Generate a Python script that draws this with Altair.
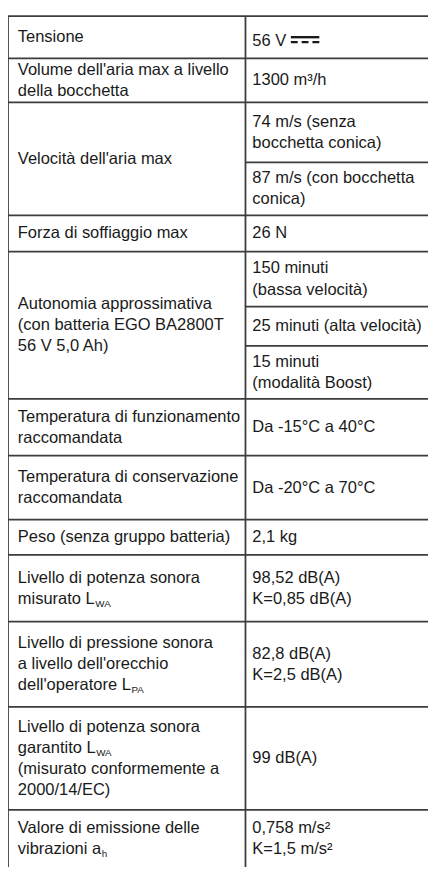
import altair as alt
import pandas as pd

# ---------------- data ----------------
left_labels = [
    ["Tensione"],
    ["Volume dell'aria max a livello", "della bocchetta"],
    ["Velocità dell'aria max"],
    ["Forza di soffiaggio max"],
    ["Autonomia approssimativa", "(con batteria EGO BA2800T", "56 V 5,0 Ah)"],
    ["Temperatura di funzionamento", "raccomandata"],
    ["Temperatura di conservazione", "raccomandata"],
    ["Peso (senza gruppo batteria)"],
    ["Livello di potenza sonora", "misurato L"],
    ["Livello di pressione sonora", "a livello dell'orecchio", "dell'operatore L"],
    ["Livello di potenza sonora", "garantito L", "(misurato conformemente a", "2000/14/EC)"],
    ["Valore di emissione delle", "vibrazioni a"],
]
left_subscripts = {(8, 1): "WA", (9, 2): "PA", (10, 1): "WA", (11, 1): "h"}

right_values = [
    [["56 V "]],
    [["1300 m³/h"]],
    [["74 m/s (senza", "bocchetta conica)"], ["87 m/s (con bocchetta", "conica)"]],
    [["26 N"]],
    [["150 minuti", "(bassa velocità)"], ["25 minuti (alta velocità)"], ["15 minuti", "(modalità Boost)"]],
    [["Da -15°C a 40°C"]],
    [["Da -20°C a 70°C"]],
    [["2,1 kg"]],
    [["98,52 dB(A)", "K=0,85 dB(A)"]],
    [["82,8 dB(A)", "K=2,5 dB(A)"]],
    [["99 dB(A)"]],
    [["0,758 m/s²", "K=1,5 m/s²"]],
]
dc_symbol_row = 0  # the "56 V" cell carries the direct-current symbol

# row borders (table coordinates, px from the table's top-left corner)
row_edges = [0, 43, 88, 203, 240, 390, 448, 513, 549, 617, 704, 809, 867]
# inner borders of the right column, per row
right_splits = {2: [149], 4: [296, 336]}
right_shift = {0: 4}

# ---------------- layout ----------------
W, H = 428, 867
MID = 242
LEFT_PAD = 10
RIGHT_PAD = 7
LINE_H = 21.5
FS = 16.8
SUB_FS = 10
FONT = "Liberation Sans, Arial, Helvetica, sans-serif"
LINE_COLOR = "#3c3c3c"
TEXT_COLOR = "#1a1a1a"

ARIAL_W = dict(zip("abcdefghijklmnopqrstuvwxyz",
                   [556, 556, 500, 556, 556, 278, 556, 556, 222, 222, 500, 222, 833,
                    556, 556, 556, 556, 333, 500, 278, 556, 500, 722, 500, 500, 500]))
ARIAL_W.update({" ": 278, "'": 191, "L": 556, "V": 667})


def text_width(s, size):
    return sum(ARIAL_W.get(c, 556) for c in s) * size / 1000.0


def line_positions(top, bottom, n):
    c = (top + bottom) / 2.0
    return [c + (i - (n - 1) / 2.0) * LINE_H for i in range(n)]


texts, subs = [], []
for r, lines in enumerate(left_labels):
    ys = line_positions(row_edges[r], row_edges[r + 1], len(lines))
    for i, (s, y) in enumerate(zip(lines, ys)):
        texts.append({"x": LEFT_PAD, "y": y, "text": s})
        if (r, i) in left_subscripts:
            subs.append({"x": LEFT_PAD + text_width(s, FS) + 0.5, "y": y + 5,
                         "text": left_subscripts[(r, i)]})

hlines = []
for e in row_edges[:-1]:
    hlines.append({"x": 0, "x2": W, "y": e})

dc_solid, dc_dash = [], []
for r, cells in enumerate(right_values):
    edges = [row_edges[r]] + right_splits.get(r, []) + [row_edges[r + 1]]
    for k, cell in enumerate(cells):
        ys = line_positions(edges[k], edges[k + 1], len(cell))
        for s, y in zip(cell, ys):
            y = y + right_shift.get(r, 0)
            texts.append({"x": MID + RIGHT_PAD, "y": y, "text": s})
            if r == dc_symbol_row:
                x0 = MID + RIGHT_PAD + text_width(s, FS)
                dc_solid.append({"x": x0, "x2": x0 + 29, "y": y - 4})
                dc_dash.append({"x": x0, "x2": x0 + 29, "y": y + 1})
    for e in right_splits.get(r, []):
        hlines.append({"x": MID, "x2": W, "y": e})

vlines = [{"x": 0, "y": 0, "y2": H}, {"x": MID, "y": 0, "y2": H}]

xs = alt.Scale(domain=[0, W], nice=False, zero=False)
ys_ = alt.Scale(domain=[0, H], nice=False, zero=False, reverse=True)


def hrule(df, **kw):
    return alt.Chart(pd.DataFrame(df)).mark_rule(**kw).encode(
        x=alt.X("x:Q", scale=xs, axis=None), x2="x2:Q",
        y=alt.Y("y:Q", scale=ys_, axis=None))


h = hrule(hlines, color=LINE_COLOR, strokeWidth=1.8)
s1 = hrule(dc_solid, color=TEXT_COLOR, strokeWidth=2.4)
s2 = hrule(dc_dash, color=TEXT_COLOR, strokeWidth=2.4, strokeDash=[7, 4])
v = alt.Chart(pd.DataFrame(vlines)).mark_rule(color=LINE_COLOR, strokeWidth=1.8).encode(
    x=alt.X("x:Q", scale=xs, axis=None),
    y=alt.Y("y:Q", scale=ys_, axis=None), y2="y2:Q")
t = alt.Chart(pd.DataFrame(texts)).mark_text(
    align="left", baseline="middle", font=FONT, fontSize=FS, color=TEXT_COLOR).encode(
    x=alt.X("x:Q", scale=xs, axis=None),
    y=alt.Y("y:Q", scale=ys_, axis=None), text="text:N")
sb = alt.Chart(pd.DataFrame(subs)).mark_text(
    align="left", baseline="middle", font=FONT, fontSize=SUB_FS, color=TEXT_COLOR).encode(
    x=alt.X("x:Q", scale=xs, axis=None),
    y=alt.Y("y:Q", scale=ys_, axis=None), text="text:N")

chart = alt.layer(h, v, s1, s2, t, sb).properties(
    width=W, height=H, padding=0, autosize="none", background="white"
).configure_view(stroke=None)

chart.save("out.html", embed_options={"renderer": "svg", "actions": False})
